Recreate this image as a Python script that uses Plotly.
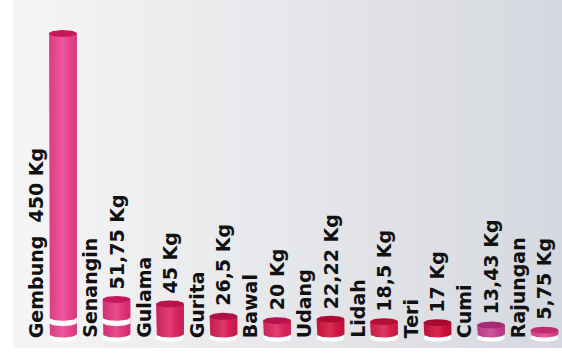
import numpy as np
import plotly.graph_objects as go

# Catch per species (kg)
species = ["Gembung", "Senangin", "Gulama", "Gurita", "Bawal",
           "Udang", "Lidah", "Teri", "Cumi", "Rajungan"]
catch_kg = [450, 51.75, 45, 26.5, 20, 22.22, 18.5, 17, 13.43, 5.75]
unit = "Kg"

# Cylinder colours: side and top face
side_colors = ["#ec4290", "#e4347d", "#dc2563", "#d81f56", "#dc2660",
               "#d41540", "#d81e4c", "#d0103a", "#c8408f", "#e2448d"]
top_colors = ["#c7185d", "#c5185a", "#b8124a", "#b01042", "#b8124a",
              "#ae0c34", "#b31038", "#a60a30", "#a52c75", "#c22a70"]

W, H = 562, 358
PX_PER_UNIT = 0.6678          # vertical scale
X_STEP = 53.5                 # px per category
LEFT, BOTTOM = 13, 10         # white frame around the panel
BASE_PX = 334                 # y pixel of the zero line

x_range = [-(63 - LEFT) / X_STEP, (W - 63) / X_STEP]
y_range = [-(H - BOTTOM - BASE_PX) / PX_PER_UNIT, BASE_PX / PX_PER_UNIT]

half_w = 0.26                  # half bar width (category units)
ry = 3.5 / PX_PER_UNIT         # ellipse half height (value units)
ring_cut = 50                  # cylinders above this get the white ring


def hex_mix(c, t):
    """Blend a hex colour toward white (t>0) or black (t<0)."""
    c = c.lstrip("#")
    r, g, b = (int(c[k:k + 2], 16) for k in (0, 2, 4))
    if t >= 0:
        r, g, b = (v + (255 - v) * t for v in (r, g, b))
    else:
        r, g, b = (v * (1 + t) for v in (r, g, b))
    return "#%02x%02x%02x" % (int(r), int(g), int(b))


def fmt(v):
    return f"{v:g}".replace(".", ",")


fig = go.Figure()

# panel background with a soft left-to-right gradient
fig.add_trace(go.Scatter(
    x=[x_range[0], x_range[1], x_range[1], x_range[0], x_range[0]],
    y=[y_range[0], y_range[0], y_range[1], y_range[1], y_range[0]],
    mode="lines", line=dict(width=0), fill="toself",
    fillgradient=dict(type="horizontal",
                      colorscale=[[0, "#f5f5f6"], [0.5, "#e6e7ea"], [1, "#d5d8df"]]),
    hoverinfo="skip", showlegend=False))

t = np.linspace(0, np.pi, 40)
full = np.linspace(0, 2 * np.pi, 80)
tall_cut = 0.5 * max(catch_kg)

for i, (name, v) in enumerate(zip(species, catch_kg)):
    side = side_colors[i]
    top = top_colors[i]

    # soft white reflection under the base
    fig.add_trace(go.Scatter(
        x=i + half_w * 1.02 * np.cos(full), y=-ry * 1.1 + ry * 1.1 * np.sin(full),
        mode="lines", line=dict(width=0), fill="toself",
        fillcolor="rgba(255,255,255,0.95)", hoverinfo="skip", showlegend=False))

    # cylinder side
    bx = np.concatenate([[i - half_w], i - half_w * np.cos(t), [i + half_w, i - half_w]])
    by = np.concatenate([[v], -ry * np.sin(t), [v, v]])
    fig.add_trace(go.Scatter(
        x=bx, y=by, mode="lines", line=dict(width=0), fill="toself",
        fillgradient=dict(type="horizontal", colorscale=[
            [0, hex_mix(side, -0.08)], [0.5, hex_mix(side, 0.12)],
            [0.7, side], [1, hex_mix(side, -0.12)]]),
        hovertemplate=f"{name}: {fmt(v)} {unit}<extra></extra>", showlegend=False))

    # white ring near the base of the tallest cylinders
    if v > ring_cut:
        lo, hi = 17, 25
        rx_ = i - half_w * np.cos(t)
        fig.add_trace(go.Scatter(
            x=np.concatenate([rx_, rx_[::-1]]),
            y=np.concatenate([hi - ry * np.sin(t), (lo - ry * np.sin(t))[::-1]]),
            mode="lines", line=dict(width=0), fill="toself",
            fillcolor="rgba(255,255,255,0.97)", hoverinfo="skip", showlegend=False))

    # top face
    fig.add_trace(go.Scatter(
        x=i + half_w * np.cos(full), y=v + ry * np.sin(full),
        mode="lines", line=dict(width=0), fill="toself",
        fillcolor=top, hoverinfo="skip", showlegend=False))

label_font = dict(family="DejaVu Sans", size=19, color="#111111", weight="bold")
annotations = []
for i, (name, v) in enumerate(zip(species, catch_kg)):
    value_text = f"{fmt(v)} {unit}"
    if v > tall_cut:
        annotations.append(dict(x=i - 0.5, y=0, text=f"{name}  {value_text}",
                                textangle=-90, showarrow=False, xanchor="center",
                                yanchor="bottom", yshift=-6, font=label_font))
    else:
        annotations.append(dict(x=i - 0.5, y=0, text=name, textangle=-90,
                                showarrow=False, xanchor="center", yanchor="bottom",
                                yshift=-6, font=label_font))
        annotations.append(dict(x=i, y=v, text=value_text, textangle=-90,
                                showarrow=False, xanchor="center", yanchor="bottom",
                                yshift=8, font=label_font))

fig.update_layout(
    width=W, height=H,
    margin=dict(l=0, r=0, t=0, b=0),
    paper_bgcolor="#ffffff", plot_bgcolor="rgba(0,0,0,0)",
    xaxis=dict(range=x_range, domain=[LEFT / W, 1], visible=False, fixedrange=True),
    yaxis=dict(range=y_range, domain=[BOTTOM / H, 1], visible=False, fixedrange=True),
    annotations=annotations,
    showlegend=False,
)

fig.write_html("out.html")
